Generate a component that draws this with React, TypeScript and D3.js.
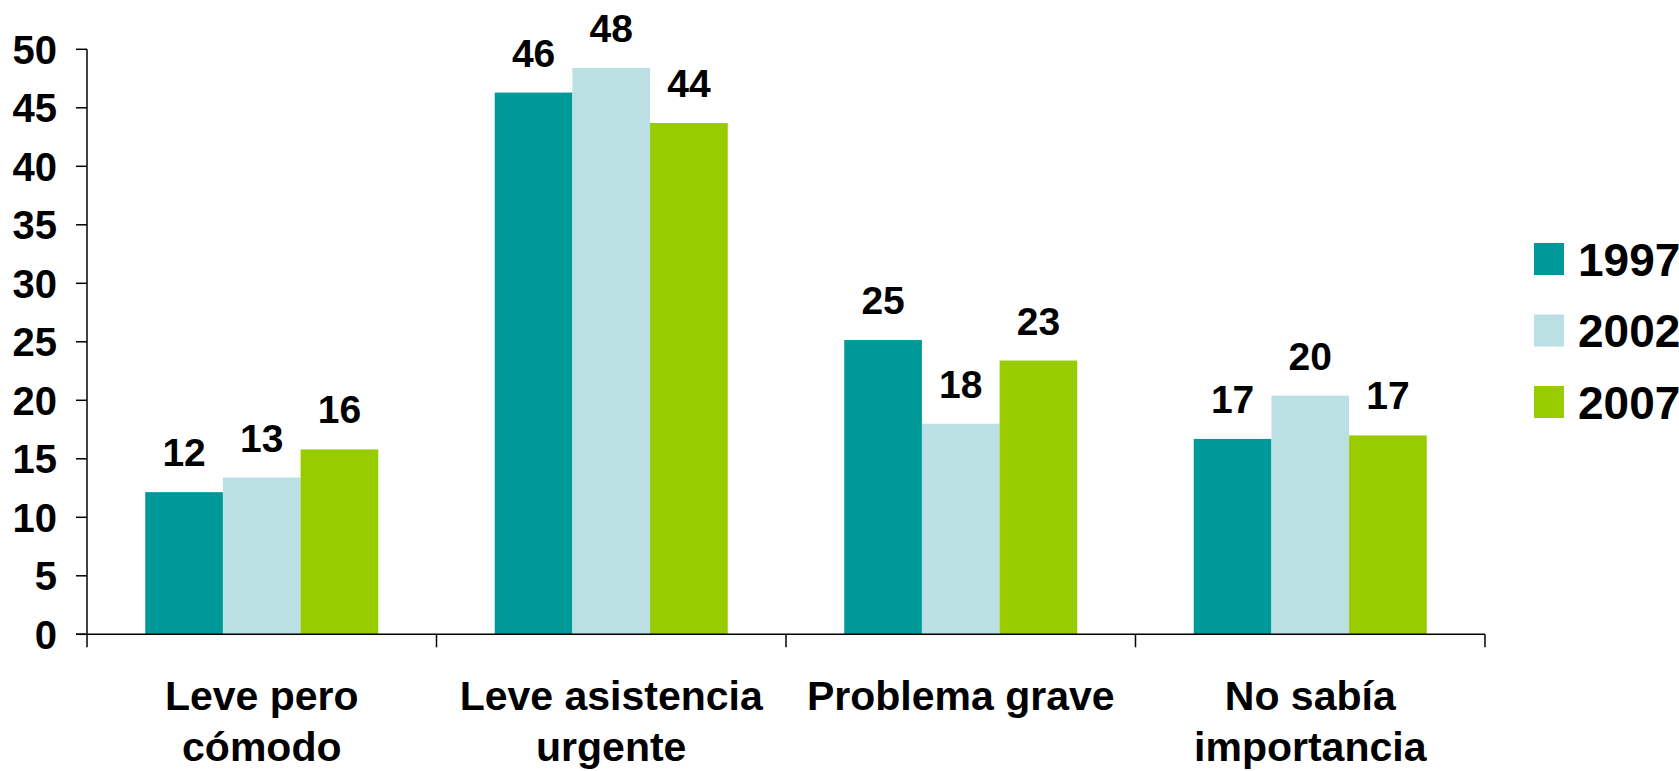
import React from 'react';
import * as d3 from 'd3';

const categories = [
  ['Leve pero', 'cómodo'],
  ['Leve asistencia', 'urgente'],
  ['Problema grave'],
  ['No sabía', 'importancia'],
];
const years = ['1997', '2002', '2007'];
const values1997 = [12.15, 46.3, 25.15, 16.7];
const values2002 = [13.4, 48.4, 18.0, 20.4];
const values2007 = [15.8, 43.7, 23.4, 17.0];
const yTicks = [0, 5, 10, 15, 20, 25, 30, 35, 40, 45, 50];
const colors = ['#009999', '#BAE0E3', '#99CC00'];

const series = [values1997, values2002, values2007];

export default function App() {
  const width = 1679;
  const height = 771;
  const margin = { left: 87, right: 194, top: 49.3, bottom: 136.7 };
  const font = '"Liberation Sans", Arial, sans-serif';

  const xScale = d3
    .scaleBand<number>()
    .domain(categories.map((_, i) => i))
    .range([margin.left, width - margin.right])
    .padding(0);

  const innerScale = d3
    .scaleBand<number>()
    .domain(years.map((_, i) => i))
    .range([0, xScale.bandwidth()])
    .paddingInner(0)
    .paddingOuter(0.75);

  const yScale = d3
    .scaleLinear()
    .domain([0, 50])
    .range([height - margin.bottom, margin.top]);

  const y0 = yScale(0);

  return (
    <svg
      width={width}
      height={height}
      style={{ position: 'absolute', left: 0, top: 0, background: '#fff' }}
      fontFamily={font}
      fontWeight="bold"
    >
      {/* bars */}
      {categories.map((_, ci) =>
        series.map((vals, si) => {
          const x = (xScale(ci) as number) + (innerScale(si) as number);
          const y = yScale(vals[ci]);
          return (
            <g key={`${ci}-${si}`}>
              <rect
                x={x}
                y={y}
                width={innerScale.bandwidth()}
                height={y0 - y}
                fill={colors[si]}
              />
              <text
                x={x + innerScale.bandwidth() / 2}
                y={y - 26}
                textAnchor="middle"
                fontSize={39}
                fill="#000"
              >
                {Math.round(vals[ci])}
              </text>
            </g>
          );
        })
      )}

      {/* y axis */}
      <line x1={margin.left} x2={margin.left} y1={yScale(50)} y2={y0 + 13} stroke="#000" strokeWidth={1.5} />
      {yTicks.map((t) => (
        <g key={t}>
          <line x1={margin.left - 11} x2={margin.left} y1={yScale(t)} y2={yScale(t)} stroke="#000" strokeWidth={1.5} />
          <text x={57} y={yScale(t)} dy="0.36em" textAnchor="end" fontSize={40} fill="#000">
            {t}
          </text>
        </g>
      ))}

      {/* x axis */}
      <line x1={margin.left - 11} x2={width - margin.right} y1={y0} y2={y0} stroke="#000" strokeWidth={1.5} />
      {categories.map((_, i) => (
        <line
          key={i}
          x1={(xScale(i) as number) + xScale.bandwidth()}
          x2={(xScale(i) as number) + xScale.bandwidth()}
          y1={y0}
          y2={y0 + 13}
          stroke="#000"
          strokeWidth={1.5}
        />
      ))}
      {categories.map((lines, i) => (
        <text
          key={i}
          x={(xScale(i) as number) + xScale.bandwidth() / 2}
          y={710}
          textAnchor="middle"
          fontSize={41}
          fill="#000"
        >
          {lines.map((l, li) => (
            <tspan key={li} x={(xScale(i) as number) + xScale.bandwidth() / 2} dy={li === 0 ? 0 : 51}>
              {l}
            </tspan>
          ))}
        </text>
      ))}

      {/* legend */}
      {years.map((yr, i) => (
        <g key={yr} transform={`translate(1534, ${243 + i * 71.5})`}>
          <rect x={0} y={0} width={30} height={32} fill={colors[i]} />
          <text x={44} y={16} dy="0.36em" fontSize={46} fill="#000">
            {yr}
          </text>
        </g>
      ))}
    </svg>
  );
}
